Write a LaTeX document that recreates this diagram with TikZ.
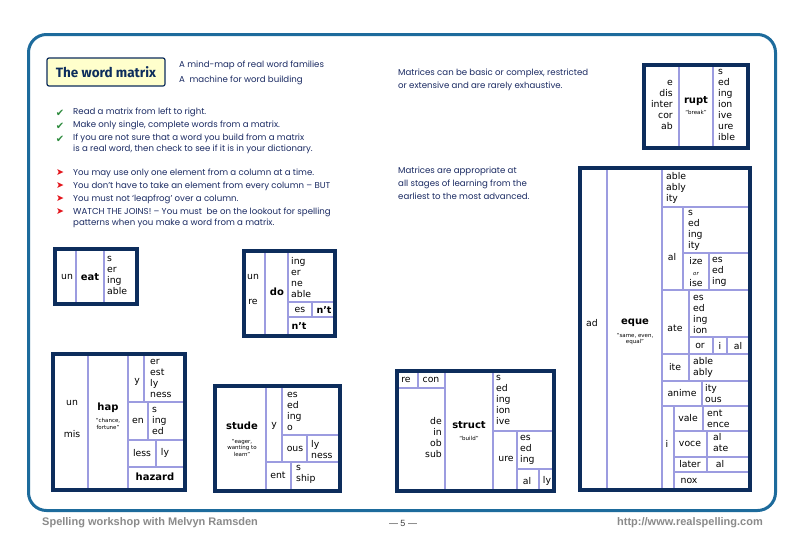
\documentclass[tikz,border=0pt]{standalone}
\usepackage{fontspec}
\setmainfont{Poppins}
\newfontfamily\mxfont{DejaVu Sans}
\newfontfamily\symfont{DejaVu Sans}
\newfontfamily\titlefont{Fira Sans}
\newfontfamily\footfont{Liberation Sans}
\usepackage{xcolor}
\definecolor{wmnavy}{HTML}{0D2D5C}
\definecolor{wmlav}{HTML}{9C9CE0}
\definecolor{wmframe}{HTML}{1D6B9C}
\definecolor{wmtext}{HTML}{1B2B63}
\definecolor{wmgreen}{HTML}{2E8B3E}
\definecolor{wmred}{HTML}{E3141B}
\definecolor{wmgrey}{HTML}{8A8A8A}
\definecolor{wmcream}{HTML}{FFFFCC}
\usetikzlibrary{positioning}

\begin{document}
\begin{tikzpicture}[
  x=1pt, y=-1pt,
  txt/.style={font=\fontsize{8.6}{13}\selectfont, text=wmtext, inner sep=0pt,
              anchor=west, align=left},
  tick/.style={font=\symfont\fontsize{10}{10}\selectfont, text=wmgreen, inner sep=0pt},
  pointer/.style={font=\symfont\fontsize{9.5}{9.5}\selectfont, text=wmred, inner sep=0pt},
  mx/.style={font=\mxfont\fontsize{9.3}{11}\selectfont, inner sep=0pt, align=left},
  stem/.style={font=\mxfont\bfseries\fontsize{10}{12}\selectfont, inner sep=0pt},
  gloss/.style={font=\mxfont\fontsize{5.5}{6.5}\selectfont, inner sep=0pt, align=center},
  mxframe/.style={draw=wmnavy, line width=4pt},
  cell/.style={draw=wmlav, line width=1.6pt},
  foot/.style={font=\footfont\bfseries\fontsize{11}{11}\selectfont, text=wmgrey, inner sep=0pt},
]
  \fill[white] (0,0) rectangle (799,541);
  \useasboundingbox (0,0) rectangle (799,541);

  % page frame
  \draw[line width=3pt, draw=wmframe, rounded corners=18pt] (28.5,34.5) rectangle (775.5,510.5);

  % heading and rules
  \node[draw=wmnavy, fill=wmcream, line width=1.2pt, rounded corners=2pt, minimum width=118pt,
        minimum height=28pt, inner sep=0pt, font=\titlefont\bfseries\fontsize{13.5}{14}\selectfont, text=wmnavy]
        (title) at (106,72) {The word matrix};
  \node[txt] (aim1) at (179,65) {A mind-map of real word families};
  \node[txt] (aim2) at (179,80) {A\ \ machine for word building};

  \node[tick] (t1) at (60,113) {✔};
  \node[tick] (t2) at (60,126) {✔};
  \node[tick] (t3) at (60,139) {✔};
  \node[txt] (r1) at (73,112) {Read a matrix from left to right.};
  \node[txt] (r2) at (73,125) {Make only single, complete words from a matrix.};
  \node[txt] (r3) at (73,143.5) {If you are not sure that a word you build from a matrix\\[-2pt]
    is a real word, then check to see if it is in your dictionary.};

  \node[pointer] (p1) at (60,173) {➤};
  \node[pointer] (p2) at (60,186) {➤};
  \node[pointer] (p3) at (60,199) {➤};
  \node[pointer] (p4) at (60,212) {➤};
  \node[txt] (w1) at (73,173) {You may use only one element from a column at a time.};
  \node[txt] (w2) at (73,186) {You don’t have to take an element from every column -- BUT};
  \node[txt] (w3) at (73,199) {You must not ‘leapfrog’ over a column.};
  \node[txt] (w4) at (73,217.5) {WATCH THE JOINS! -- You must\ \ be on the lookout for spelling\\[-2pt]
    patterns when you make a word from a matrix.};

  \node[txt] (kinds) at (398,79.5) {Matrices can be basic or complex, restricted\\
    or extensive and are rarely exhaustive.};
  \node[txt] (stages) at (398,183) {Matrices are appropriate at\\
    all stages of learning from the\\earliest to the most advanced.};

  % eat
  \draw[cell] (76,247) -- (76,306) (104,247) -- (104,306);
  \draw[mxframe] (55,249) rectangle (137,304);
  \node[mx] (eatp) at (67,277) {un};
  \node[stem] (eat) at (90,277) {eat};
  \node[mx, anchor=west] (eats) at (107,275) {s\\er\\ing\\able};

  % do
  \draw[cell] (265,249) -- (265,338) (288,249) -- (288,338) (288,302) -- (337,302)
    (288,317) -- (337,317) (312,302) -- (312,317);
  \draw[mxframe] (244,251) rectangle (335,336);
  \node[mx] (dop1) at (253,277) {un};
  \node[mx] (dop2) at (253,302) {re};
  \node[stem] (do) at (277,292) {do};
  \node[mx, anchor=west] (dos) at (291,278) {ing\\er\\ne\\able};
  \node[mx] (does) at (300,310) {es};
  \node[stem, font=\mxfont\bfseries\fontsize{9.5}{11}\selectfont] (dont1) at (324,310) {n’t};
  \node[stem, font=\mxfont\bfseries\fontsize{9.5}{11}\selectfont] (dont2) at (299,326) {n’t};

  % hap
  \draw[cell] (88,352) -- (88,492) (128,352) -- (128,492) (128,402) -- (187,402)
    (128,440) -- (187,440) (128,467) -- (187,467) (144,352) -- (144,402)
    (148,402) -- (148,440) (156,440) -- (156,467);
  \draw[mxframe] (53,354) rectangle (185,490);
  \node[mx] (happ1) at (72,403) {un};
  \node[mx] (happ2) at (72,434) {mis};
  \node[stem] (hap) at (108,408) {hap};
  \node[gloss] (hapg) at (108,424) {“chance,\\fortune”};
  \node[mx] (hapy) at (137,382) {y};
  \node[mx, anchor=west] (hapys) at (150,378) {er\\est\\ly\\ness};
  \node[mx] (hapen) at (138,421) {en};
  \node[mx, anchor=west] (hapens) at (152,421) {s\\ing\\ed};
  \node[mx] (hapless) at (142,453) {less};
  \node[mx] (haply) at (165,453) {ly};
  \node[stem] (hazard) at (155,477) {hazard};

  % stude
  \draw[cell] (266,384) -- (266,493) (282,384) -- (282,462) (266,462) -- (342,462)
    (282,435) -- (342,435) (307,435) -- (307,462) (291,462) -- (291,493);
  \draw[mxframe] (215,386) rectangle (340,491);
  \node[stem] (stude) at (242,426) {stude};
  \node[gloss] (studeg) at (242,448) {“eager,\\wanting to\\learn”};
  \node[mx] (studey) at (274,426) {y};
  \node[mx, anchor=west] (studeys) at (287,411.5) {es\\ed\\ing\\o};
  \node[mx] (studeous) at (295,449) {ous};
  \node[mx, anchor=west] (studeouss) at (311,450) {ly\\ness};
  \node[mx] (studeent) at (278,475) {ent};
  \node[mx, anchor=west] (studeents) at (296,474.5) {s\\ship};

  % struct
  \draw[cell] (418,369) -- (418,388) (395,388) -- (445,388) (445,369) -- (445,493)
    (493,369) -- (493,493) (493,431) -- (556,431) (517,431) -- (517,493)
    (517,469) -- (556,469) (539,469) -- (539,493);
  \draw[mxframe] (397,371) rectangle (554,491);
  \node[mx] (strre) at (406,380) {re};
  \node[mx] (strcon) at (431,380) {con};
  \node[mx, anchor=east, align=right] (strp) at (442,438) {de\\in\\ob\\sub};
  \node[stem] (struct) at (469,425) {struct};
  \node[gloss] (structg) at (469,438) {“build”};
  \node[mx, anchor=west] (strs) at (496,400) {s\\ed\\ing\\ion\\ive};
  \node[mx] (strure) at (506,459) {ure};
  \node[mx, anchor=west] (strures) at (520,450) {es\\ed\\ing};
  \node[mx] (stral) at (527,481) {al};
  \node[mx] (strly) at (547,481) {ly};

  % rupt
  \draw[cell] (679,63) -- (679,150) (713,63) -- (713,150);
  \draw[mxframe] (644,65) rectangle (748,148);
  \node[mx, anchor=east, align=right] (ruptp) at (673,105) {e\\dis\\inter\\cor\\ab};
  \node[stem] (rupt) at (696,101) {rupt};
  \node[gloss] (ruptg) at (696,112) {“break”};
  \node[mx, anchor=west] (rupts) at (718,105) {s\\ed\\ing\\ion\\ive\\ure\\ible};

  % eque
  \draw[cell] (607,166) -- (607,492) (662,166) -- (662,492)
    (662,207) -- (752,207) (683,207) -- (683,290) (683,253) -- (752,253) (709,253) -- (709,290)
    (662,290) -- (752,290) (689,290) -- (689,354) (689,337) -- (752,337)
    (713,337) -- (713,354) (727,337) -- (727,354)
    (662,354) -- (752,354) (689,354) -- (689,381)
    (662,381) -- (752,381) (702,381) -- (702,406)
    (662,406) -- (752,406) (674,406) -- (674,492)
    (703,406) -- (703,431) (674,431) -- (752,431) (707,431) -- (707,457)
    (674,457) -- (752,457) (707,457) -- (707,472) (674,472) -- (752,472);
  \draw[mxframe] (580,168) rectangle (750,490);
  \node[mx] (eqad) at (592,323) {ad};
  \node[stem] (eque) at (635,323) {eque};
  \node[gloss] (equeg) at (635,339) {“same, even,\\equal”};
  \node[mx, anchor=west] (eqs) at (666,188) {able\\ably\\ity};
  \node[mx] (eqal) at (672,257) {al};
  \node[mx, anchor=west] (eqals) at (688,230) {s\\ed\\ing\\ity};
  \node[mx, align=center] (eqize) at (696,272) {ize\\{\fontsize{5.5}{6}\selectfont\itshape or}\\ise};
  \node[mx, anchor=west] (eqizes) at (712,272) {es\\ed\\ing};
  \node[mx] (eqate) at (675,328) {ate};
  \node[mx, anchor=west] (eqates) at (693,314) {es\\ed\\ing\\ion};
  \node[mx] (eqor) at (700,346) {or};
  \node[mx] (eqori) at (720,346) {i};
  \node[mx] (eqoral) at (738,346) {al};
  \node[mx] (eqite) at (675,367) {ite};
  \node[mx, anchor=west] (eqites) at (693,367.5) {able\\ably};
  \node[mx] (eqanime) at (682,393) {anime};
  \node[mx, anchor=west] (eqanimes) at (705,394) {ity\\ous};
  \node[mx] (eqi) at (667,444) {i};
  \node[mx] (eqvale) at (688,418) {vale};
  \node[mx, anchor=west] (eqvales) at (707,418.5) {ent\\ence};
  \node[mx] (eqvoce) at (690,444) {voce};
  \node[mx, anchor=west] (eqvoces) at (713,443) {al\\ate};
  \node[mx] (eqlater) at (690,464) {later};
  \node[mx] (eqlaterl) at (720,464) {al};
  \node[mx] (eqnox) at (689,481) {nox};

  % footer
  \node[foot, anchor=west] (author) at (42,523) {Spelling workshop with Melvyn Ramsden};
  \node[inner sep=0pt, font=\footfont\fontsize{9}{9}\selectfont, text=black!75] (page) at (403,523) {— 5 —};
  \node[foot, anchor=east] (site) at (763,523) {http://www.realspelling.com};
\end{tikzpicture}
\end{document}
